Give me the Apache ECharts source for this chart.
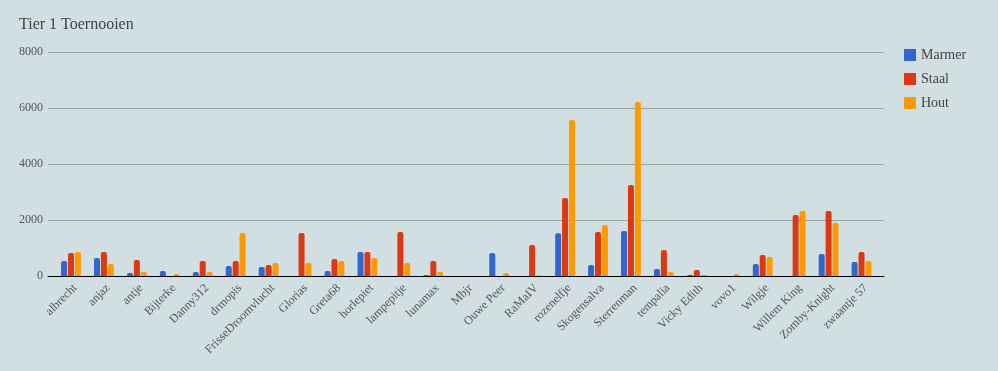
<!DOCTYPE html>
<html><head><meta charset="utf-8">
<script src="https://cdn.jsdelivr.net/npm/echarts@6/dist/echarts.min.js"></script>
<style>html,body{margin:0;padding:0;background:#d1dfe2}#c{width:998px;height:371px}</style>
</head><body><div id="c"></div>
<script>
var categories = ["albrecht","anjaz","antje","Bijterke","Danny312","drmopis","FrisseDroomvlucht","Glorias","Greta68","horlepiet","lampepitje","lunamax","Mbjr","Ouwe Peer","RaMaIV","rozenelfje","Skogensalva","Sterrenman","tempalia","Vicky Edith","vovo1","Wilgje","Willem King","Zomby-Knight","zwaantje 57"];
var marmer = [536,643,107,179,143,357,321,0,179,857,0,36,0,821,0,1524,393,1607,250,36,0,429,0,786,500];
var staal  = [821,857,571,0,536,536,393,1536,607,857,1571,536,0,0,1107,2786,1571,3250,929,214,0,750,2179,2321,857];
var hout   = [857,430,143,71,143,1536,464,464,536,643,464,143,0,107,20,5571,1821,6214,143,36,71,679,2321,1893,536];
var yTicks = [0,2000,4000,6000,8000];
var seriesNames = ["Marmer","Staal","Hout"];
var font = "'Liberation Serif','Times New Roman',serif";
var chart = echarts.init(document.getElementById('c'));
function mk(name, data, color){
  return {name:name,type:'bar',data:data,barWidth:6,barGap:'15%',xAxisIndex:1,yAxisIndex:1,
    itemStyle:{color:color,borderRadius:[2,2,0,0]}};
}
var yMin = yTicks[0], yMax = yTicks[yTicks.length-1];
chart.setOption({
  backgroundColor:'#d1dfe2',
  animation:false,
  title:{text:'Tier 1 Toernooien',left:14,top:12,textStyle:{fontFamily:font,fontSize:16,fontWeight:'normal',color:'#444'}},
  legend:{orient:'vertical',left:899,top:43,itemWidth:12,itemHeight:12,itemGap:10,icon:'rect',
    textStyle:{fontFamily:font,fontSize:14,color:'#444'},data:seriesNames},
  grid:[{left:48,right:114,top:52,bottom:95},{left:54.5,right:120,top:52,bottom:95}],
  xAxis:[
    {type:'value',gridIndex:0,min:0,max:1,show:true,axisLine:{show:true,onZero:false,lineStyle:{color:'#000',width:1}},
      axisTick:{show:false},axisLabel:{show:false},splitLine:{show:false}},
    {type:'category',gridIndex:1,data:categories,
      axisLine:{show:false},axisTick:{show:false},
      axisLabel:{rotate:45,interval:0,fontFamily:font,fontSize:12,color:'#555',margin:6,verticalAlign:'top'}}
  ],
  yAxis:[
    {type:'value',gridIndex:0,min:yMin,max:yMax,interval:2000,
      axisLine:{show:false},axisTick:{show:false},
      splitLine:{lineStyle:{color:'#9aa69f',width:1}},
      axisLabel:{fontFamily:font,fontSize:12,color:'#555',margin:5,formatter:function(v){return String(v);}}},
    {type:'value',gridIndex:1,min:yMin,max:yMax,interval:2000,show:false,splitLine:{show:false}}
  ],
  series:[mk(seriesNames[0],marmer,'#3366cc'),mk(seriesNames[1],staal,'#dc3912'),mk(seriesNames[2],hout,'#ff9900')]
});
</script></body></html>
